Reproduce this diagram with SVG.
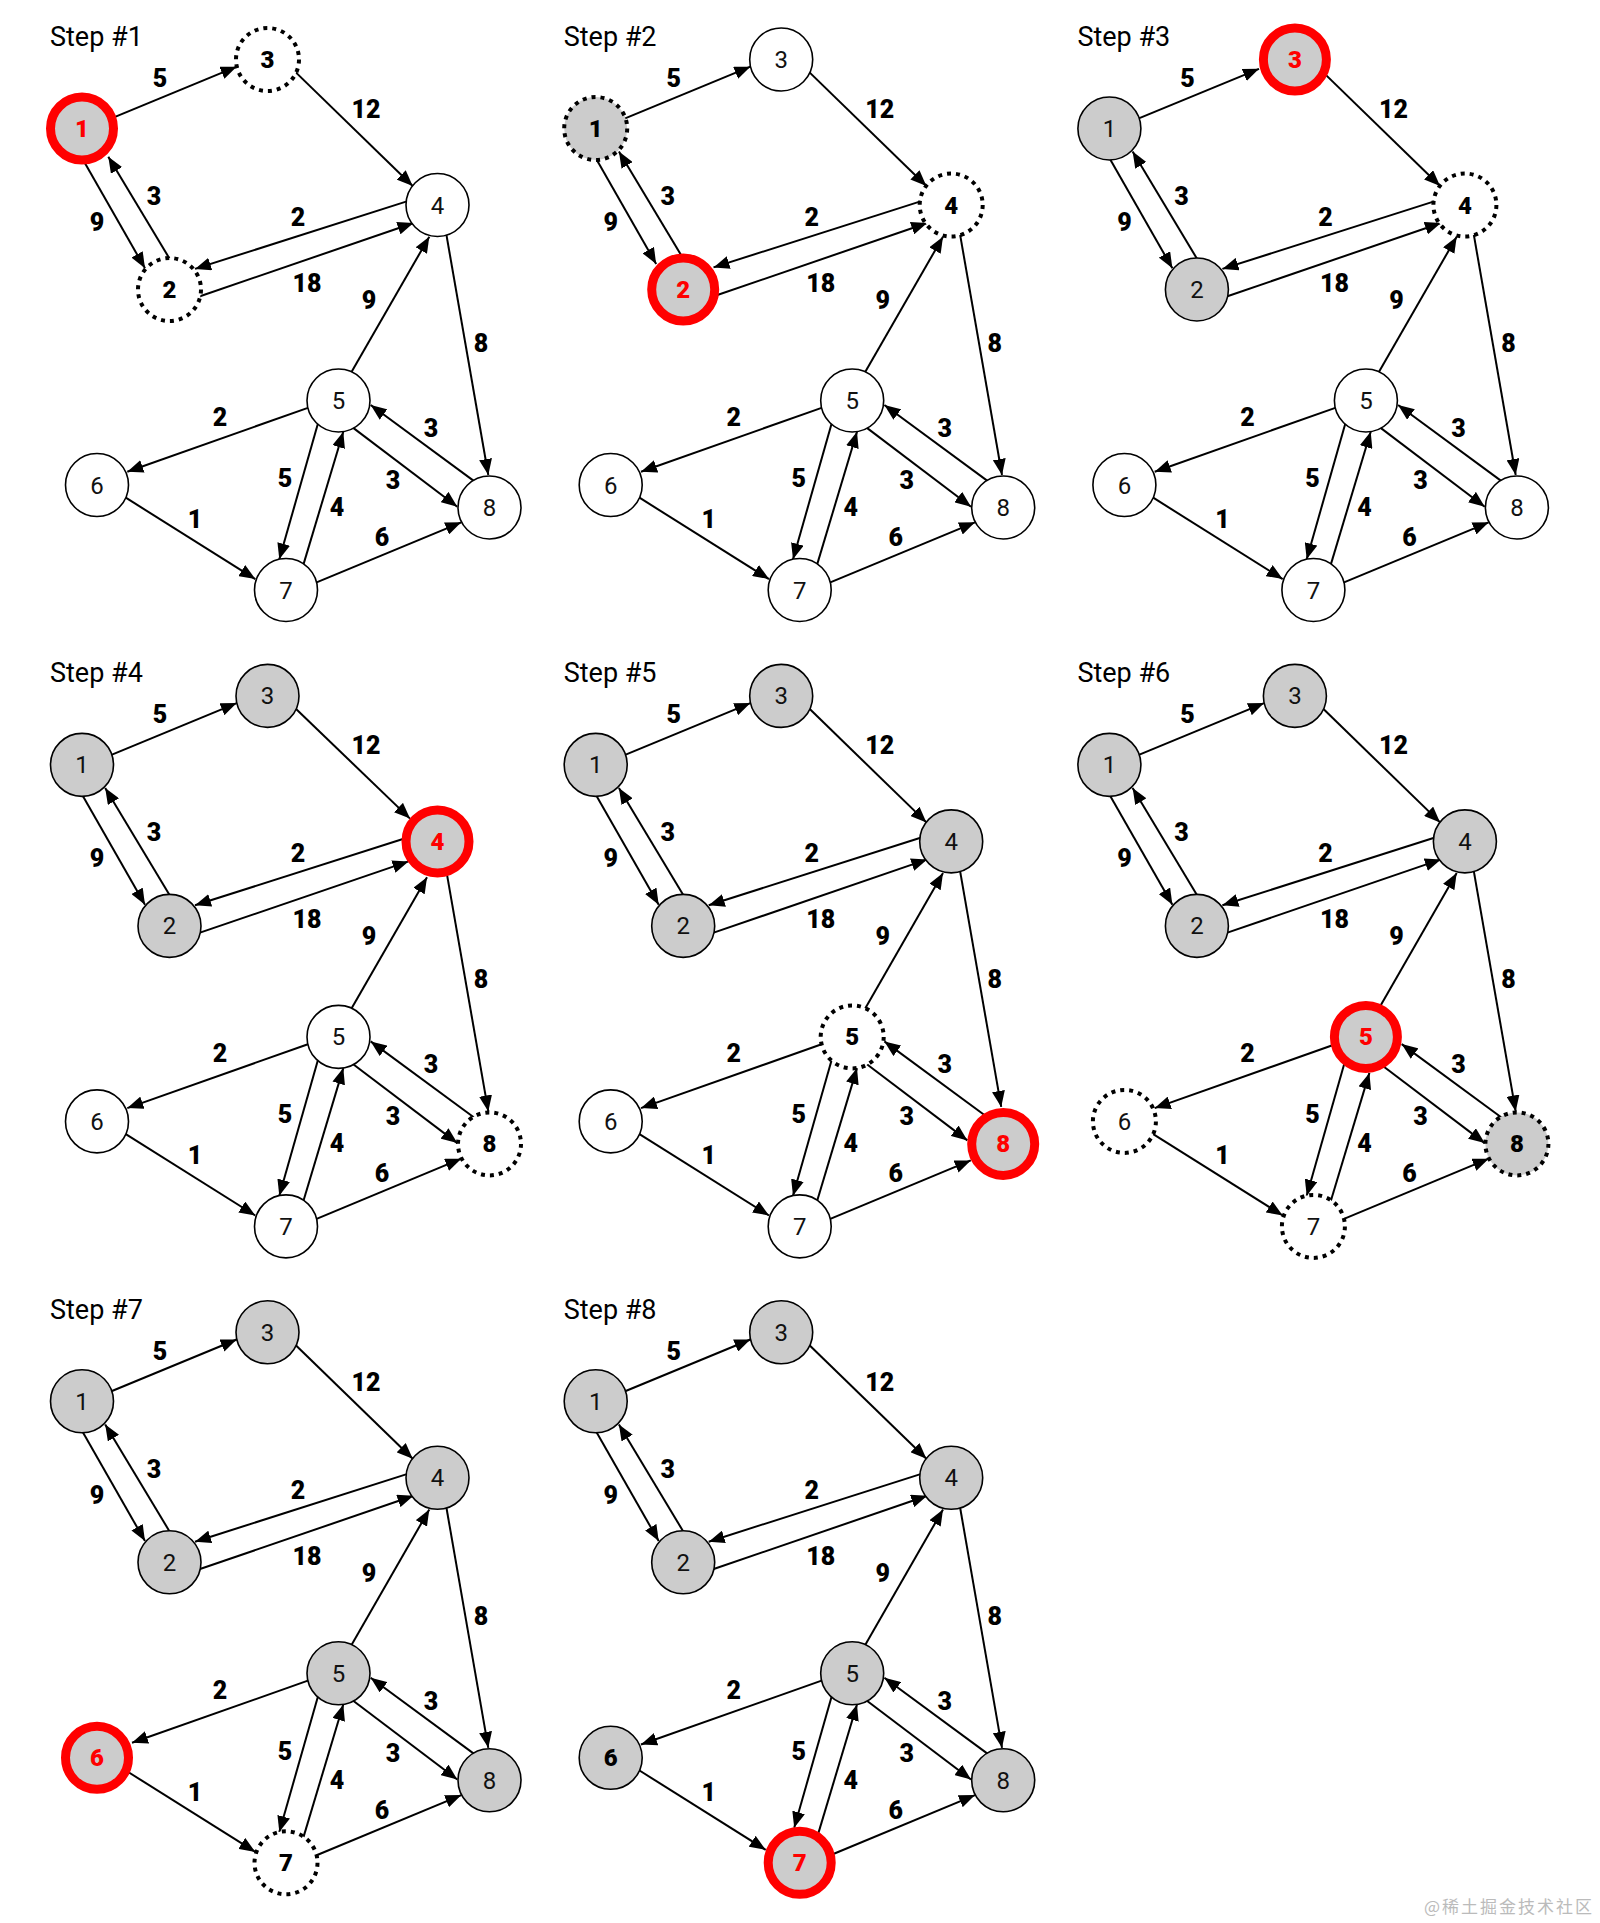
<svg xmlns="http://www.w3.org/2000/svg" width="1600" height="1923" viewBox="0 0 1600 1923">
<defs>
<style>
.title{font-family:Roboto,"Liberation Sans",sans-serif;font-size:27px;fill:#000}
.e{stroke:#000;stroke-width:2;fill:none;marker-end:url(#arr)}
.l{font-family:Roboto,"Liberation Sans",sans-serif;font-size:25px;font-weight:900;text-anchor:middle;fill:#000}
.n circle{fill:#fff;stroke:#000;stroke-width:1.6}
.n text{font-family:Roboto,"Liberation Sans",sans-serif;font-size:24px;text-anchor:middle;fill:#111}
.n.g circle{fill:#ccc}
.n.d circle{stroke-width:4;stroke-dasharray:4 5}
.n.b text{font-weight:900;fill:#000}
.n.r circle{fill:#ccc;stroke:#f00;stroke-width:9}
.n.r text{fill:#f00;font-weight:900}
.wm{font-family:"Noto Sans CJK SC","Noto Sans",sans-serif;font-size:17px;fill:#bbb;text-anchor:end;letter-spacing:2px}
</style>
<marker id="arr" viewBox="0 0 16 13" refX="16" refY="6.5" markerWidth="16" markerHeight="13" markerUnits="userSpaceOnUse" orient="auto"><path d="M0,0 L16,6.5 L0,13 z" fill="#000"/></marker>
</defs>
<rect width="1600" height="1923" fill="#fff"/>

<!-- Step 1 -->
<g id="step1" transform="translate(0 0)">
<text class="title" x="50" y="46">Step #1</text>
<g id="s1-edges">
<path class="e" d="M110.8,118.7 L236.7,66.7"/>
<path class="e" d="M295.3,71.9 L412.7,186"/>
<path class="e" d="M83,159.8 L145,268.3"/>
<path class="e" d="M169.4,258.4 L108.3,156.7"/>
<path class="e" d="M407.6,201.1 L195,268.9"/>
<path class="e" d="M199.3,296.5 L413.5,223"/>
<path class="e" d="M351.2,372.6 L429.3,236.7"/>
<path class="e" d="M446.4,234.7 L488.3,475"/>
<path class="e" d="M308.6,407.6 L127.3,471.7"/>
<path class="e" d="M125,497.2 L255.3,579.1"/>
<path class="e" d="M317.8,424.1 L279.3,559.3"/>
<path class="e" d="M303.4,564.6 L343.3,431.7"/>
<path class="e" d="M353.2,427.9 L457.3,506.7"/>
<path class="e" d="M474.1,481.1 L370.7,405"/>
<path class="e" d="M316,582.7 L461.3,522.3"/>
<text class="l" x="160" y="87">5</text><text class="l" x="366" y="118">12</text><text class="l" x="97" y="231">9</text><text class="l" x="154" y="205">3</text><text class="l" x="298" y="226">2</text><text class="l" x="307" y="292">18</text><text class="l" x="369" y="309">9</text><text class="l" x="481" y="352">8</text><text class="l" x="220" y="426">2</text><text class="l" x="195" y="528">1</text><text class="l" x="285" y="487">5</text><text class="l" x="337" y="516">4</text><text class="l" x="393" y="489">3</text><text class="l" x="431" y="437">3</text><text class="l" x="382" y="546">6</text>
</g>
<g id="s1-n1" class="n r"><circle cx="82" cy="128.5" r="31.5"/><text x="82" y="137">1</text></g>
<g id="s1-n2" class="n d b"><circle cx="169.5" cy="289.5" r="31.5"/><text x="169.5" y="298">2</text></g>
<g id="s1-n3" class="n d b"><circle cx="267.5" cy="59.5" r="31.5"/><text x="267.5" y="68">3</text></g>
<g id="s1-n4" class="n"><circle cx="437.5" cy="205" r="31.5"/><text x="437.5" y="213.5">4</text></g>
<g id="s1-n5" class="n"><circle cx="338.5" cy="400.5" r="31.5"/><text x="338.5" y="409">5</text></g>
<g id="s1-n6" class="n"><circle cx="97" cy="485" r="31.5"/><text x="97" y="493.5">6</text></g>
<g id="s1-n7" class="n"><circle cx="286" cy="590" r="31.5"/><text x="286" y="598.5">7</text></g>
<g id="s1-n8" class="n"><circle cx="489.5" cy="507.5" r="31.5"/><text x="489.5" y="516">8</text></g>
</g>

<!-- Step 2 -->
<g id="step2" transform="translate(513.7 0)">
<text class="title" x="50" y="46">Step #2</text>
<g id="s2-edges">
<path class="e" d="M110.8,118.7 L236.7,66.7"/>
<path class="e" d="M295.3,71.9 L412.7,186"/>
<path class="e" d="M83,159.8 L142.5,264"/>
<path class="e" d="M169.4,258.4 L105.2,151.6"/>
<path class="e" d="M407.6,201.1 L199.8,267.4"/>
<path class="e" d="M199.3,296.5 L413.5,223"/>
<path class="e" d="M351.2,372.6 L429.3,236.7"/>
<path class="e" d="M446.4,234.7 L488.3,475"/>
<path class="e" d="M308.6,407.6 L127.3,471.7"/>
<path class="e" d="M125,497.2 L255.3,579.1"/>
<path class="e" d="M317.8,424.1 L279.3,559.3"/>
<path class="e" d="M303.4,564.6 L343.3,431.7"/>
<path class="e" d="M353.2,427.9 L457.3,506.7"/>
<path class="e" d="M474.1,481.1 L370.7,405"/>
<path class="e" d="M316,582.7 L461.3,522.3"/>
<text class="l" x="160" y="87">5</text><text class="l" x="366" y="118">12</text><text class="l" x="97" y="231">9</text><text class="l" x="154" y="205">3</text><text class="l" x="298" y="226">2</text><text class="l" x="307" y="292">18</text><text class="l" x="369" y="309">9</text><text class="l" x="481" y="352">8</text><text class="l" x="220" y="426">2</text><text class="l" x="195" y="528">1</text><text class="l" x="285" y="487">5</text><text class="l" x="337" y="516">4</text><text class="l" x="393" y="489">3</text><text class="l" x="431" y="437">3</text><text class="l" x="382" y="546">6</text>
</g>
<g id="s2-n1" class="n g d b"><circle cx="82" cy="128.5" r="31.5"/><text x="82" y="137">1</text></g>
<g id="s2-n2" class="n r"><circle cx="169.5" cy="289.5" r="31.5"/><text x="169.5" y="298">2</text></g>
<g id="s2-n3" class="n"><circle cx="267.5" cy="59.5" r="31.5"/><text x="267.5" y="68">3</text></g>
<g id="s2-n4" class="n d b"><circle cx="437.5" cy="205" r="31.5"/><text x="437.5" y="213.5">4</text></g>
<g id="s2-n5" class="n"><circle cx="338.5" cy="400.5" r="31.5"/><text x="338.5" y="409">5</text></g>
<g id="s2-n6" class="n"><circle cx="97" cy="485" r="31.5"/><text x="97" y="493.5">6</text></g>
<g id="s2-n7" class="n"><circle cx="286" cy="590" r="31.5"/><text x="286" y="598.5">7</text></g>
<g id="s2-n8" class="n"><circle cx="489.5" cy="507.5" r="31.5"/><text x="489.5" y="516">8</text></g>
</g>

<!-- Step 3 -->
<g id="step3" transform="translate(1027.4 0)">
<text class="title" x="50" y="46">Step #3</text>
<g id="s3-edges">
<path class="e" d="M110.8,118.7 L231.6,68.8"/>
<path class="e" d="M295.3,71.9 L412.7,186"/>
<path class="e" d="M83,159.8 L145,268.3"/>
<path class="e" d="M169.4,258.4 L105.2,151.6"/>
<path class="e" d="M407.6,201.1 L195,268.9"/>
<path class="e" d="M199.3,296.5 L413.5,223"/>
<path class="e" d="M351.2,372.6 L429.3,236.7"/>
<path class="e" d="M446.4,234.7 L488.3,475"/>
<path class="e" d="M308.6,407.6 L127.3,471.7"/>
<path class="e" d="M125,497.2 L255.3,579.1"/>
<path class="e" d="M317.8,424.1 L279.3,559.3"/>
<path class="e" d="M303.4,564.6 L343.3,431.7"/>
<path class="e" d="M353.2,427.9 L457.3,506.7"/>
<path class="e" d="M474.1,481.1 L370.7,405"/>
<path class="e" d="M316,582.7 L461.3,522.3"/>
<text class="l" x="160" y="87">5</text><text class="l" x="366" y="118">12</text><text class="l" x="97" y="231">9</text><text class="l" x="154" y="205">3</text><text class="l" x="298" y="226">2</text><text class="l" x="307" y="292">18</text><text class="l" x="369" y="309">9</text><text class="l" x="481" y="352">8</text><text class="l" x="220" y="426">2</text><text class="l" x="195" y="528">1</text><text class="l" x="285" y="487">5</text><text class="l" x="337" y="516">4</text><text class="l" x="393" y="489">3</text><text class="l" x="431" y="437">3</text><text class="l" x="382" y="546">6</text>
</g>
<g id="s3-n1" class="n g"><circle cx="82" cy="128.5" r="31.5"/><text x="82" y="137">1</text></g>
<g id="s3-n2" class="n g"><circle cx="169.5" cy="289.5" r="31.5"/><text x="169.5" y="298">2</text></g>
<g id="s3-n3" class="n r"><circle cx="267.5" cy="59.5" r="31.5"/><text x="267.5" y="68">3</text></g>
<g id="s3-n4" class="n d b"><circle cx="437.5" cy="205" r="31.5"/><text x="437.5" y="213.5">4</text></g>
<g id="s3-n5" class="n"><circle cx="338.5" cy="400.5" r="31.5"/><text x="338.5" y="409">5</text></g>
<g id="s3-n6" class="n"><circle cx="97" cy="485" r="31.5"/><text x="97" y="493.5">6</text></g>
<g id="s3-n7" class="n"><circle cx="286" cy="590" r="31.5"/><text x="286" y="598.5">7</text></g>
<g id="s3-n8" class="n"><circle cx="489.5" cy="507.5" r="31.5"/><text x="489.5" y="516">8</text></g>
</g>

<!-- Step 4 -->
<g id="step4" transform="translate(0 636.4)">
<text class="title" x="50" y="46">Step #4</text>
<g id="s4-edges">
<path class="e" d="M110.8,118.7 L236.7,66.7"/>
<path class="e" d="M295.3,71.9 L410,182.2"/>
<path class="e" d="M83,159.8 L145,268.3"/>
<path class="e" d="M169.4,258.4 L105.2,151.6"/>
<path class="e" d="M407.6,201.1 L195,268.9"/>
<path class="e" d="M199.3,296.5 L408.5,225"/>
<path class="e" d="M351.2,372.6 L427,240.8"/>
<path class="e" d="M446.4,234.7 L488.3,475"/>
<path class="e" d="M308.6,407.6 L127.3,471.7"/>
<path class="e" d="M125,497.2 L255.3,579.1"/>
<path class="e" d="M317.8,424.1 L279.3,559.3"/>
<path class="e" d="M303.4,564.6 L343.3,431.7"/>
<path class="e" d="M353.2,427.9 L457.3,506.7"/>
<path class="e" d="M474.1,481.1 L370.7,405"/>
<path class="e" d="M316,582.7 L461.3,522.3"/>
<text class="l" x="160" y="87">5</text><text class="l" x="366" y="118">12</text><text class="l" x="97" y="231">9</text><text class="l" x="154" y="205">3</text><text class="l" x="298" y="226">2</text><text class="l" x="307" y="292">18</text><text class="l" x="369" y="309">9</text><text class="l" x="481" y="352">8</text><text class="l" x="220" y="426">2</text><text class="l" x="195" y="528">1</text><text class="l" x="285" y="487">5</text><text class="l" x="337" y="516">4</text><text class="l" x="393" y="489">3</text><text class="l" x="431" y="437">3</text><text class="l" x="382" y="546">6</text>
</g>
<g id="s4-n1" class="n g"><circle cx="82" cy="128.5" r="31.5"/><text x="82" y="137">1</text></g>
<g id="s4-n2" class="n g"><circle cx="169.5" cy="289.5" r="31.5"/><text x="169.5" y="298">2</text></g>
<g id="s4-n3" class="n g"><circle cx="267.5" cy="59.5" r="31.5"/><text x="267.5" y="68">3</text></g>
<g id="s4-n4" class="n r"><circle cx="437.5" cy="205" r="31.5"/><text x="437.5" y="213.5">4</text></g>
<g id="s4-n5" class="n"><circle cx="338.5" cy="400.5" r="31.5"/><text x="338.5" y="409">5</text></g>
<g id="s4-n6" class="n"><circle cx="97" cy="485" r="31.5"/><text x="97" y="493.5">6</text></g>
<g id="s4-n7" class="n"><circle cx="286" cy="590" r="31.5"/><text x="286" y="598.5">7</text></g>
<g id="s4-n8" class="n d b"><circle cx="489.5" cy="507.5" r="31.5"/><text x="489.5" y="516">8</text></g>
</g>

<!-- Step 5 -->
<g id="step5" transform="translate(513.7 636.4)">
<text class="title" x="50" y="46">Step #5</text>
<g id="s5-edges">
<path class="e" d="M110.8,118.7 L236.7,66.7"/>
<path class="e" d="M295.3,71.9 L412.7,186"/>
<path class="e" d="M83,159.8 L145,268.3"/>
<path class="e" d="M169.4,258.4 L105.2,151.6"/>
<path class="e" d="M407.6,201.1 L195,268.9"/>
<path class="e" d="M199.3,296.5 L413.5,223"/>
<path class="e" d="M351.2,372.6 L429.3,236.7"/>
<path class="e" d="M446.4,234.7 L487.5,470.5"/>
<path class="e" d="M308.6,407.6 L127.3,471.7"/>
<path class="e" d="M125,497.2 L255.3,579.1"/>
<path class="e" d="M317.8,424.1 L279.3,559.3"/>
<path class="e" d="M303.4,564.6 L343.3,431.7"/>
<path class="e" d="M353.2,427.9 L453.7,504"/>
<path class="e" d="M474.1,481.1 L370.7,405"/>
<path class="e" d="M316,582.7 L457.1,524"/>
<text class="l" x="160" y="87">5</text><text class="l" x="366" y="118">12</text><text class="l" x="97" y="231">9</text><text class="l" x="154" y="205">3</text><text class="l" x="298" y="226">2</text><text class="l" x="307" y="292">18</text><text class="l" x="369" y="309">9</text><text class="l" x="481" y="352">8</text><text class="l" x="220" y="426">2</text><text class="l" x="195" y="528">1</text><text class="l" x="285" y="487">5</text><text class="l" x="337" y="516">4</text><text class="l" x="393" y="489">3</text><text class="l" x="431" y="437">3</text><text class="l" x="382" y="546">6</text>
</g>
<g id="s5-n1" class="n g"><circle cx="82" cy="128.5" r="31.5"/><text x="82" y="137">1</text></g>
<g id="s5-n2" class="n g"><circle cx="169.5" cy="289.5" r="31.5"/><text x="169.5" y="298">2</text></g>
<g id="s5-n3" class="n g"><circle cx="267.5" cy="59.5" r="31.5"/><text x="267.5" y="68">3</text></g>
<g id="s5-n4" class="n g"><circle cx="437.5" cy="205" r="31.5"/><text x="437.5" y="213.5">4</text></g>
<g id="s5-n5" class="n d b"><circle cx="338.5" cy="400.5" r="31.5"/><text x="338.5" y="409">5</text></g>
<g id="s5-n6" class="n"><circle cx="97" cy="485" r="31.5"/><text x="97" y="493.5">6</text></g>
<g id="s5-n7" class="n"><circle cx="286" cy="590" r="31.5"/><text x="286" y="598.5">7</text></g>
<g id="s5-n8" class="n r"><circle cx="489.5" cy="507.5" r="31.5"/><text x="489.5" y="516">8</text></g>
</g>

<!-- Step 6 -->
<g id="step6" transform="translate(1027.4 636.4)">
<text class="title" x="50" y="46">Step #6</text>
<g id="s6-edges">
<path class="e" d="M110.8,118.7 L236.7,66.7"/>
<path class="e" d="M295.3,71.9 L412.7,186"/>
<path class="e" d="M83,159.8 L145,268.3"/>
<path class="e" d="M169.4,258.4 L105.2,151.6"/>
<path class="e" d="M407.6,201.1 L195,268.9"/>
<path class="e" d="M199.3,296.5 L413.5,223"/>
<path class="e" d="M351.2,372.6 L429.3,236.7"/>
<path class="e" d="M446.4,234.7 L488.3,475"/>
<path class="e" d="M308.6,407.6 L127.3,471.7"/>
<path class="e" d="M125,497.2 L255.3,579.1"/>
<path class="e" d="M317.8,424.1 L279.3,559.3"/>
<path class="e" d="M303.4,564.6 L342,436.5"/>
<path class="e" d="M353.2,427.9 L457.3,506.7"/>
<path class="e" d="M474.1,481.1 L374.3,407.7"/>
<path class="e" d="M316,582.7 L461.3,522.3"/>
<text class="l" x="160" y="87">5</text><text class="l" x="366" y="118">12</text><text class="l" x="97" y="231">9</text><text class="l" x="154" y="205">3</text><text class="l" x="298" y="226">2</text><text class="l" x="307" y="292">18</text><text class="l" x="369" y="309">9</text><text class="l" x="481" y="352">8</text><text class="l" x="220" y="426">2</text><text class="l" x="195" y="528">1</text><text class="l" x="285" y="487">5</text><text class="l" x="337" y="516">4</text><text class="l" x="393" y="489">3</text><text class="l" x="431" y="437">3</text><text class="l" x="382" y="546">6</text>
</g>
<g id="s6-n1" class="n g"><circle cx="82" cy="128.5" r="31.5"/><text x="82" y="137">1</text></g>
<g id="s6-n2" class="n g"><circle cx="169.5" cy="289.5" r="31.5"/><text x="169.5" y="298">2</text></g>
<g id="s6-n3" class="n g"><circle cx="267.5" cy="59.5" r="31.5"/><text x="267.5" y="68">3</text></g>
<g id="s6-n4" class="n g"><circle cx="437.5" cy="205" r="31.5"/><text x="437.5" y="213.5">4</text></g>
<g id="s6-n5" class="n r"><circle cx="338.5" cy="400.5" r="31.5"/><text x="338.5" y="409">5</text></g>
<g id="s6-n6" class="n d"><circle cx="97" cy="485" r="31.5"/><text x="97" y="493.5">6</text></g>
<g id="s6-n7" class="n d"><circle cx="286" cy="590" r="31.5"/><text x="286" y="598.5">7</text></g>
<g id="s6-n8" class="n g d b"><circle cx="489.5" cy="507.5" r="31.5"/><text x="489.5" y="516">8</text></g>
</g>

<!-- Step 7 -->
<g id="step7" transform="translate(0 1272.8)">
<text class="title" x="50" y="46">Step #7</text>
<g id="s7-edges">
<path class="e" d="M110.8,118.7 L236.7,66.7"/>
<path class="e" d="M295.3,71.9 L412.7,186"/>
<path class="e" d="M83,159.8 L145,268.3"/>
<path class="e" d="M169.4,258.4 L105.2,151.6"/>
<path class="e" d="M407.6,201.1 L195,268.9"/>
<path class="e" d="M199.3,296.5 L413.5,223"/>
<path class="e" d="M351.2,372.6 L429.3,236.7"/>
<path class="e" d="M446.4,234.7 L488.3,475"/>
<path class="e" d="M308.6,407.6 L132,470"/>
<path class="e" d="M125,497.2 L255.3,579.1"/>
<path class="e" d="M317.8,424.1 L279.3,559.3"/>
<path class="e" d="M303.4,564.6 L343.3,431.7"/>
<path class="e" d="M353.2,427.9 L457.3,506.7"/>
<path class="e" d="M474.1,481.1 L370.7,405"/>
<path class="e" d="M316,582.7 L461.3,522.3"/>
<text class="l" x="160" y="87">5</text><text class="l" x="366" y="118">12</text><text class="l" x="97" y="231">9</text><text class="l" x="154" y="205">3</text><text class="l" x="298" y="226">2</text><text class="l" x="307" y="292">18</text><text class="l" x="369" y="309">9</text><text class="l" x="481" y="352">8</text><text class="l" x="220" y="426">2</text><text class="l" x="195" y="528">1</text><text class="l" x="285" y="487">5</text><text class="l" x="337" y="516">4</text><text class="l" x="393" y="489">3</text><text class="l" x="431" y="437">3</text><text class="l" x="382" y="546">6</text>
</g>
<g id="s7-n1" class="n g"><circle cx="82" cy="128.5" r="31.5"/><text x="82" y="137">1</text></g>
<g id="s7-n2" class="n g"><circle cx="169.5" cy="289.5" r="31.5"/><text x="169.5" y="298">2</text></g>
<g id="s7-n3" class="n g"><circle cx="267.5" cy="59.5" r="31.5"/><text x="267.5" y="68">3</text></g>
<g id="s7-n4" class="n g"><circle cx="437.5" cy="205" r="31.5"/><text x="437.5" y="213.5">4</text></g>
<g id="s7-n5" class="n g"><circle cx="338.5" cy="400.5" r="31.5"/><text x="338.5" y="409">5</text></g>
<g id="s7-n6" class="n r"><circle cx="97" cy="485" r="31.5"/><text x="97" y="493.5">6</text></g>
<g id="s7-n7" class="n d b"><circle cx="286" cy="590" r="31.5"/><text x="286" y="598.5">7</text></g>
<g id="s7-n8" class="n g"><circle cx="489.5" cy="507.5" r="31.5"/><text x="489.5" y="516">8</text></g>
</g>

<!-- Step 8 -->
<g id="step8" transform="translate(513.7 1272.8)">
<text class="title" x="50" y="46">Step #8</text>
<g id="s8-edges">
<path class="e" d="M110.8,118.7 L236.7,66.7"/>
<path class="e" d="M295.3,71.9 L412.7,186"/>
<path class="e" d="M83,159.8 L145,268.3"/>
<path class="e" d="M169.4,258.4 L105.2,151.6"/>
<path class="e" d="M407.6,201.1 L195,268.9"/>
<path class="e" d="M199.3,296.5 L413.5,223"/>
<path class="e" d="M351.2,372.6 L429.3,236.7"/>
<path class="e" d="M446.4,234.7 L488.3,475"/>
<path class="e" d="M308.6,407.6 L127.3,471.7"/>
<path class="e" d="M125,497.2 L252,577"/>
<path class="e" d="M317.8,424.1 L280.5,555"/>
<path class="e" d="M303.4,564.6 L343.3,431.7"/>
<path class="e" d="M353.2,427.9 L457.3,506.7"/>
<path class="e" d="M474.1,481.1 L370.7,405"/>
<path class="e" d="M316,582.7 L461.3,522.3"/>
<text class="l" x="160" y="87">5</text><text class="l" x="366" y="118">12</text><text class="l" x="97" y="231">9</text><text class="l" x="154" y="205">3</text><text class="l" x="298" y="226">2</text><text class="l" x="307" y="292">18</text><text class="l" x="369" y="309">9</text><text class="l" x="481" y="352">8</text><text class="l" x="220" y="426">2</text><text class="l" x="195" y="528">1</text><text class="l" x="285" y="487">5</text><text class="l" x="337" y="516">4</text><text class="l" x="393" y="489">3</text><text class="l" x="431" y="437">3</text><text class="l" x="382" y="546">6</text>
</g>
<g id="s8-n1" class="n g"><circle cx="82" cy="128.5" r="31.5"/><text x="82" y="137">1</text></g>
<g id="s8-n2" class="n g"><circle cx="169.5" cy="289.5" r="31.5"/><text x="169.5" y="298">2</text></g>
<g id="s8-n3" class="n g"><circle cx="267.5" cy="59.5" r="31.5"/><text x="267.5" y="68">3</text></g>
<g id="s8-n4" class="n g"><circle cx="437.5" cy="205" r="31.5"/><text x="437.5" y="213.5">4</text></g>
<g id="s8-n5" class="n g"><circle cx="338.5" cy="400.5" r="31.5"/><text x="338.5" y="409">5</text></g>
<g id="s8-n6" class="n g b"><circle cx="97" cy="485" r="31.5"/><text x="97" y="493.5">6</text></g>
<g id="s8-n7" class="n r"><circle cx="286" cy="590" r="31.5"/><text x="286" y="598.5">7</text></g>
<g id="s8-n8" class="n g"><circle cx="489.5" cy="507.5" r="31.5"/><text x="489.5" y="516">8</text></g>
</g>

<text class="wm" x="1594" y="1913">@稀土掘金技术社区</text>
</svg>
